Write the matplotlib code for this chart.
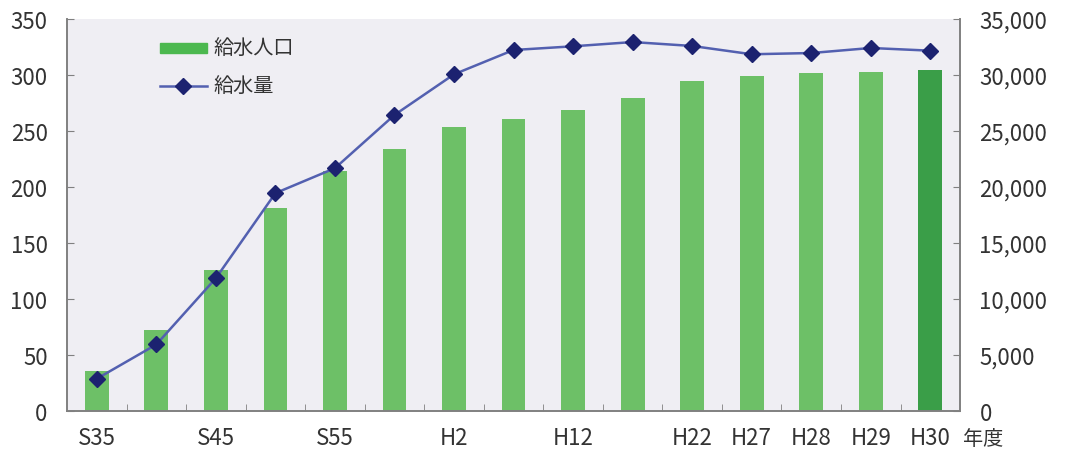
import matplotlib.pyplot as plt
import numpy as np

plt.rcParams["font.family"] = ["Noto Sans CJK JP", "DejaVu Sans"]

# data
years = ["S35", "S40", "S45", "S50", "S55", "S60", "H2", "H7",
         "H12", "H17", "H22", "H27", "H28", "H29", "H30"]
tick_labels = ["S35", "", "S45", "", "S55", "", "H2", "",
               "H12", "", "H22", "H27", "H28", "H29", "H30"]
population = [36, 72, 126, 181, 214.5, 234, 254, 261,
              269, 279.5, 295, 299, 302, 303, 304.7]
supply = [2880, 5940, 11860, 19450, 21680, 26430, 30060, 32230,
          32560, 32940, 32590, 31850, 31960, 32410, 32170]

BG = "#efeef3"
SPINE = "#808080"
TXT = "#333333"

fig = plt.figure(figsize=(10.66, 4.52), dpi=100)
ax = fig.add_axes([0.0629, 0.0885, 0.8377, 0.8673])
ax.set_facecolor(BG)

x = np.arange(len(years))
colors = ["#6dc067"] * (len(years) - 1) + ["#3a9e48"]
ax.bar(x, population, width=0.4, color=colors, zorder=2)

ax.set_xlim(-0.5, len(years) - 0.5)
ax.set_ylim(0, 350)
ax.set_yticks(np.arange(0, 351, 50))
ax.set_xticks(x)
ax.set_xticklabels(tick_labels)
ax.set_xticks(np.arange(0.5, len(years) - 1, 1), minor=True)
ax.tick_params(axis="x", which="major", length=0, pad=11, labelsize=16, labelcolor=TXT)
ax.tick_params(axis="x", which="minor", direction="in", length=5, color=SPINE)
ax.tick_params(axis="y", direction="in", length=5, color=SPINE, labelsize=16,
               labelcolor=TXT, pad=14)

ax2 = ax.twinx()
ax2.plot(x, supply, color="#5360b0", lw=1.8, marker="D", ms=8,
         mfc="#1c2270", mec="#1c2270", zorder=3)
ax2.set_ylim(0, 35000)
ax2.set_yticks(np.arange(0, 35001, 5000))
ax2.set_yticklabels([f"{v:,}" for v in range(0, 35001, 5000)])
ax2.tick_params(axis="y", direction="in", length=5, color=SPINE, labelsize=16,
                labelcolor=TXT, pad=14)

for a in (ax, ax2):
    a.spines["top"].set_visible(False)
    for s in ("left", "right", "bottom"):
        a.spines[s].set_color(SPINE)
        a.spines[s].set_linewidth(1.2)

# legend
lx0, lx1 = 160, 207
fig.patches.append(plt.Rectangle((lx0 / 1066, 1 - 54 / 452), (lx1 - lx0) / 1066, 10 / 452,
                                 transform=fig.transFigure, color="#4cb84f"))
fig.text(213 / 1066, 1 - 48 / 452, "給水人口", fontsize=14.5, color=TXT, va="center")
fig.lines.append(plt.Line2D([lx0 / 1066, lx1 / 1066], [1 - 87 / 452] * 2,
                            transform=fig.transFigure, color="#5360b0", lw=1.8))
fig.lines.append(plt.Line2D([183 / 1066], [1 - 87 / 452], transform=fig.transFigure,
                            marker="D", ms=8, color="#1c2270", lw=0))
fig.text(213 / 1066, 1 - 86 / 452, "給水量", fontsize=14.5, color=TXT, va="center")

fig.text(983 / 1066, 1 - 440 / 452, "年度", fontsize=14.5, color=TXT, ha="center", va="center")

fig.savefig("out.png", dpi=100)
